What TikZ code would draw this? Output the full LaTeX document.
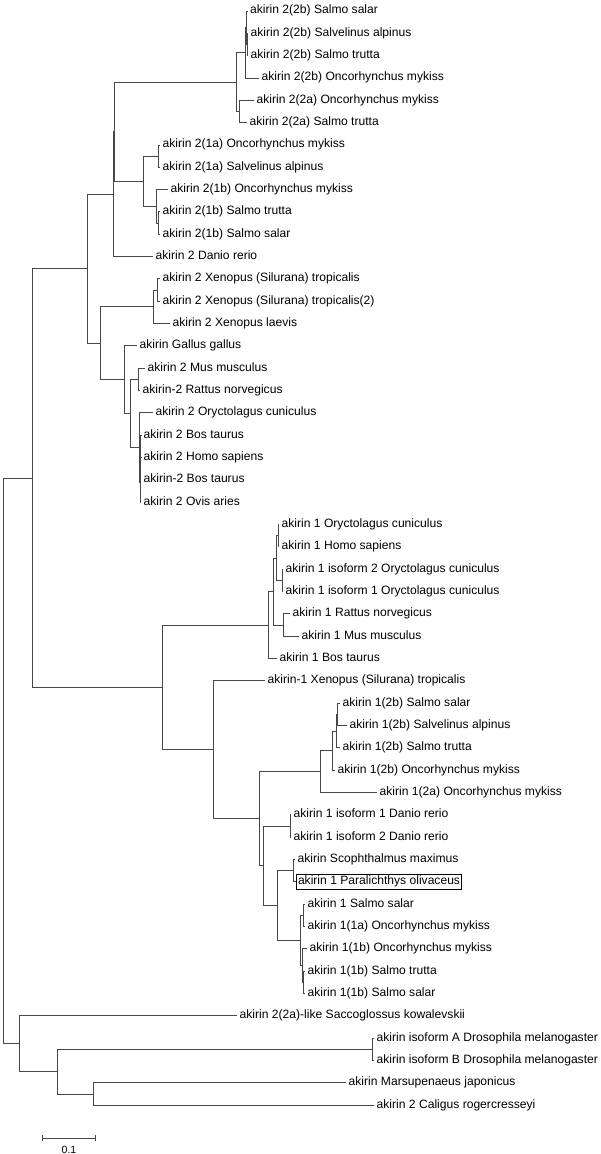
\documentclass[tikz,border=0pt]{standalone}
\usepackage{fontspec}
\setmainfont{Liberation Sans}
\usepackage{tikz}
\usetikzlibrary{arrows.meta}

\begin{document}
\begin{tikzpicture}[
        x=1pt, y=-22.33pt,
        taxon/.style={anchor=west, inner xsep=2.5pt, inner ysep=0pt, text height=8.5pt, text depth=2.5pt, font=\fontsize{12.1}{14}\selectfont},
        boxed/.style={taxon, draw, line width=1pt, inner xsep=1.5pt, inner ysep=2pt},
        br/.style={draw=black!72, line width=0.95pt},
    ]
        \useasboundingbox (0,0.50739) rectangle (600,52.187);

        % akirin 2 -- salmonid 2(2)
        \node[taxon] (a2bSsal) at (247.5,1) {akirin 2(2b) Salmo salar};
        \node[taxon] (a2bSalp) at (248,2) {akirin 2(2b) Salvelinus alpinus};
        \node[taxon] (a2bStru) at (248,3) {akirin 2(2b) Salmo trutta};
        \node[taxon] (a2bOmyk) at (259,4) {akirin 2(2b) Oncorhynchus mykiss};
        \node[taxon] (a2aOmyk) at (254,5) {akirin 2(2a) Oncorhynchus mykiss};
        \node[taxon] (a2aStru) at (247,6) {akirin 2(2a) Salmo trutta};
        % akirin 2 -- salmonid 2(1)
        \node[taxon] (a1aOmyk) at (160,7) {akirin 2(1a) Oncorhynchus mykiss};
        \node[taxon] (a1aSalp) at (160,8) {akirin 2(1a) Salvelinus alpinus};
        \node[taxon] (a1bOmyk) at (168,9) {akirin 2(1b) Oncorhynchus mykiss};
        \node[taxon] (a1bStru) at (160,10) {akirin 2(1b) Salmo trutta};
        \node[taxon] (a1bSsal) at (160,11) {akirin 2(1b) Salmo salar};
        \node[taxon] (a2Drer) at (153,12) {akirin 2 Danio rerio};
        % akirin 2 -- tetrapods
        \node[taxon] (a2Xtro) at (160,13) {akirin 2 Xenopus (Silurana) tropicalis};
        \node[taxon] (a2Xtro2) at (160,14) {akirin 2 Xenopus (Silurana) tropicalis(2)};
        \node[taxon] (a2Xlae) at (170,15) {akirin 2 Xenopus laevis};
        \node[taxon] (aGgal) at (137,16) {akirin Gallus gallus};
        \node[taxon] (a2Mmus) at (145,17) {akirin 2 Mus musculus};
        \node[taxon] (a2Rnor) at (140,18) {akirin-2 Rattus norvegicus};
        \node[taxon] (a2Ocun) at (153,19) {akirin 2 Oryctolagus cuniculus};
        \node[taxon] (a2Btau) at (141,20) {akirin 2 Bos taurus};
        \node[taxon] (a2Hsap) at (141,21) {akirin 2 Homo sapiens};
        \node[taxon] (a2Btau2) at (141,22) {akirin-2 Bos taurus};
        \node[taxon] (a2Oari) at (141,23) {akirin 2 Ovis aries};
        % akirin 1 -- mammals
        \node[taxon] (b1Ocun) at (279,24) {akirin 1 Oryctolagus cuniculus};
        \node[taxon] (b1Hsap) at (279,25) {akirin 1 Homo sapiens};
        \node[taxon] (b1Oiso2) at (283,26) {akirin 1 isoform 2 Oryctolagus cuniculus};
        \node[taxon] (b1Oiso1) at (283,27) {akirin 1 isoform 1 Oryctolagus cuniculus};
        \node[taxon] (b1Rnor) at (290,28) {akirin 1 Rattus norvegicus};
        \node[taxon] (b1Mmus) at (299,29) {akirin 1 Mus musculus};
        \node[taxon] (b1Btau) at (277,30) {akirin 1 Bos taurus};
        \node[taxon] (b1Xtro) at (265,31) {akirin-1 Xenopus (Silurana) tropicalis};
        % akirin 1 -- fish
        \node[taxon] (b2bSsal) at (340,32) {akirin 1(2b) Salmo salar};
        \node[taxon] (b2bSalp) at (347,33) {akirin 1(2b) Salvelinus alpinus};
        \node[taxon] (b2bStru) at (340,34) {akirin 1(2b) Salmo trutta};
        \node[taxon] (b2bOmyk) at (335,35) {akirin 1(2b) Oncorhynchus mykiss};
        \node[taxon] (b2aOmyk) at (377,36) {akirin 1(2a) Oncorhynchus mykiss};
        \node[taxon] (b1Drer1) at (291,37) {akirin 1 isoform 1 Danio rerio};
        \node[taxon] (b1Drer2) at (291,38) {akirin 1 isoform 2 Danio rerio};
        \node[taxon] (bSmax) at (295,39) {akirin Scophthalmus maximus};
        \node[boxed] (b1Poli) at (296,40) {akirin 1 Paralichthys olivaceus};
        \node[taxon] (b1Ssal) at (305,41) {akirin 1 Salmo salar};
        \node[taxon] (b1aOmyk) at (305,42) {akirin 1(1a) Oncorhynchus mykiss};
        \node[taxon] (b1bOmyk) at (307,43) {akirin 1(1b) Oncorhynchus mykiss};
        \node[taxon] (b1bStru) at (305,44) {akirin 1(1b) Salmo trutta};
        \node[taxon] (b1bSsal) at (305,45) {akirin 1(1b) Salmo salar};
        % invertebrates
        \node[taxon] (cSkow) at (237,46) {akirin 2(2a)-like Saccoglossus kowalevskii};
        \node[taxon] (cDmelA) at (374,47) {akirin isoform A Drosophila melanogaster};
        \node[taxon] (cDmelB) at (374,48) {akirin isoform B Drosophila melanogaster};
        \node[taxon] (cMjap) at (346,49) {akirin Marsupenaeus japonicus};
        \node[taxon] (cCrog) at (374,50) {akirin 2 Caligus rogercresseyi};

        % inner nodes
        \coordinate (s2b23) at (247,2.5);
        \coordinate (s2b1) at (246,1.75);
        \coordinate (s2b) at (245,2.875);
        \coordinate (s2a) at (239,5.5);
        \coordinate (s22) at (236,4.1875);
        \coordinate (s1a) at (158,7.5);
        \coordinate (s1bST) at (158,10.5);
        \coordinate (s1b) at (156,9.75);
        \coordinate (s21) at (143,8.625);
        \coordinate (sal2) at (114,6.40625);
        \coordinate (ndr) at (113,9.203125);
        \coordinate (xtro) at (157,13.5);
        \coordinate (xen) at (153,14.25);
        \coordinate (mr) at (138,17.5);
        \coordinate (bh) at (140.6,20.5);
        \coordinate (bhb) at (140.3,21.25);
        \coordinate (bhbo) at (140,22.125);
        \coordinate (oth) at (139,20.5625);
        \coordinate (mam2) at (130,19.03125);
        \coordinate (amn) at (124,17.515625);
        \coordinate (tet) at (100,15.8828125);
        \coordinate (ak2) at (87,12.54296875);
        \coordinate (oh) at (278,24.5);
        \coordinate (iso) at (282,26.5);
        \coordinate (ohi) at (276,25.5);
        \coordinate (rm) at (283,28.5);
        \coordinate (eu) at (273,27);
        \coordinate (mam1) at (268,28.5);
        \coordinate (f2bss) at (337,32.5);
        \coordinate (f2bt) at (336,33.25);
        \coordinate (f2b) at (332,34.125);
        \coordinate (f2) at (320,35.0625);
        \coordinate (dr1) at (290,37.5);
        \coordinate (flat) at (293,39.5);
        \coordinate (sa) at (303,41.5);
        \coordinate (stsa) at (303,44.5);
        \coordinate (sb) at (302,43.75);
        \coordinate (salm) at (300,42.625);
        \coordinate (acan) at (277,41.0625);
        \coordinate (dfl) at (263,39.28125);
        \coordinate (fish1) at (259,37.171875);
        \coordinate (xf) at (213,34.0859375);
        \coordinate (ak1) at (162,31.29296875);
        \coordinate (vert) at (32,21.91796875);
        \coordinate (dro) at (372,47.5);
        \coordinate (crus) at (93,49.5);
        \coordinate (arth) at (57,48.5);
        \coordinate (sac) at (19,47.25);
        \coordinate (root) at (3,34.583984375);

        % branches -- akirin 2
        \draw[br] (s2b23) |- (a2bSalp.west) (s2b23) |- (a2bStru.west);
        \draw[br] (s2b1) |- (a2bSsal.west) (s2b1) |- (s2b23);
        \draw[br] (s2b) |- (s2b1) (s2b) |- (a2bOmyk.west);
        \draw[br] (s2a) |- (a2aOmyk.west) (s2a) |- (a2aStru.west);
        \draw[br] (s22) |- (s2b) (s22) |- (s2a);
        \draw[br] (s1a) |- (a1aOmyk.west) (s1a) |- (a1aSalp.west);
        \draw[br] (s1bST) |- (a1bStru.west) (s1bST) |- (a1bSsal.west);
        \draw[br] (s1b) |- (a1bOmyk.west) (s1b) |- (s1bST);
        \draw[br] (s21) |- (s1a) (s21) |- (s1b);
        \draw[br] (sal2) |- (s22) (sal2) |- (s21);
        \draw[br] (ndr) |- (sal2) (ndr) |- (a2Drer.west);
        \draw[br] (xtro) |- (a2Xtro.west) (xtro) |- (a2Xtro2.west);
        \draw[br] (xen) |- (xtro) (xen) |- (a2Xlae.west);
        \draw[br] (mr) |- (a2Mmus.west) (mr) |- (a2Rnor.west);
        \draw[br] (bh) |- (a2Btau.west) (bh) |- (a2Hsap.west);
        \draw[br] (bhb) |- (bh) (bhb) |- (a2Btau2.west);
        \draw[br] (bhbo) |- (bhb) (bhbo) |- (a2Oari.west);
        \draw[br] (oth) |- (a2Ocun.west) (oth) |- (bhbo);
        \draw[br] (mam2) |- (mr) (mam2) |- (oth);
        \draw[br] (amn) |- (aGgal.west) (amn) |- (mam2);
        \draw[br] (tet) |- (xen) (tet) |- (amn);
        \draw[br] (ak2) |- (ndr) (ak2) |- (tet);

        % branches -- akirin 1
        \draw[br] (oh) |- (b1Ocun.west) (oh) |- (b1Hsap.west);
        \draw[br] (iso) |- (b1Oiso2.west) (iso) |- (b1Oiso1.west);
        \draw[br] (ohi) |- (oh) (ohi) |- (iso);
        \draw[br] (rm) |- (b1Rnor.west) (rm) |- (b1Mmus.west);
        \draw[br] (eu) |- (ohi) (eu) |- (rm);
        \draw[br] (mam1) |- (eu) (mam1) |- (b1Btau.west);
        \draw[br] (f2bss) |- (b2bSsal.west) (f2bss) |- (b2bSalp.west);
        \draw[br] (f2bt) |- (f2bss) (f2bt) |- (b2bStru.west);
        \draw[br] (f2b) |- (f2bt) (f2b) |- (b2bOmyk.west);
        \draw[br] (f2) |- (f2b) (f2) |- (b2aOmyk.west);
        \draw[br] (dr1) |- (b1Drer1.west) (dr1) |- (b1Drer2.west);
        \draw[br] (flat) |- (bSmax.west) (flat) |- (b1Poli.west);
        \draw[br] (sa) |- (b1Ssal.west) (sa) |- (b1aOmyk.west);
        \draw[br] (stsa) |- (b1bStru.west) (stsa) |- (b1bSsal.west);
        \draw[br] (sb) |- (b1bOmyk.west) (sb) |- (stsa);
        \draw[br] (salm) |- (sa) (salm) |- (sb);
        \draw[br] (acan) |- (flat) (acan) |- (salm);
        \draw[br] (dfl) |- (dr1) (dfl) |- (acan);
        \draw[br] (fish1) |- (f2) (fish1) |- (dfl);
        \draw[br] (xf) |- (b1Xtro.west) (xf) |- (fish1);
        \draw[br] (ak1) |- (mam1) (ak1) |- (xf);
        \draw[br] (vert) |- (ak2) (vert) |- (ak1);

        % branches -- invertebrates and root
        \draw[br] (dro) |- (cDmelA.west) (dro) |- (cDmelB.west);
        \draw[br] (crus) |- (cMjap.west) (crus) |- (cCrog.west);
        \draw[br] (arth) |- (dro) (arth) |- (crus);
        \draw[br] (sac) |- (cSkow.west) (sac) |- (arth);
        \draw[br] (root) |- (vert) (root) |- (sac);

        % scale bar
        \coordinate (sbl) at (42,51.47);
        \coordinate (sbr) at (96,51.47);
        \draw[br, {Bar[width=6pt]}-{Bar[width=6pt]}] (sbl) -- (sbr);
        \node[font=\fontsize{10.5}{12}\selectfont, inner sep=0pt] (sblab) at (69,52.02) {0.1};
    \end{tikzpicture}
\end{document}
